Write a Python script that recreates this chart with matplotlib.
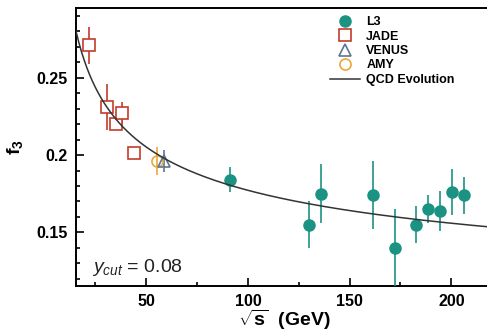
import numpy as np
import matplotlib
matplotlib.use("Agg")
import matplotlib.pyplot as plt
from matplotlib.lines import Line2D

plt.rcParams["font.family"] = ["Liberation Sans", "DejaVu Sans"]
plt.rcParams["mathtext.fontset"] = "custom"
plt.rcParams["mathtext.rm"] = "Liberation Sans"
plt.rcParams["mathtext.it"] = "Liberation Sans:italic"
plt.rcParams["mathtext.bf"] = "Liberation Sans:bold"

TEAL   = "#1b9282"
RED    = "#c43c2c"
SLATE  = "#5b7595"
ORANGE = "#eaa83c"
CURVE  = "#333333"

# ---- data ----
l3_e   = [91.2, 130.1, 136.1, 161.3, 172.3, 182.8, 188.6, 194.4, 200.2, 206.2]
l3_f3  = [0.184, 0.155, 0.175, 0.174, 0.140, 0.155, 0.165, 0.164, 0.176, 0.174]
l3_err = [0.008, 0.015, 0.019, 0.022, 0.025, 0.012, 0.009, 0.013, 0.015, 0.012]

jade_e   = [22.0, 30.5, 35.0, 38.3, 43.8]
jade_f3  = [0.271, 0.231, 0.220, 0.227, 0.201]
jade_err = [0.012, 0.015, 0.003, 0.007, 0.003]

venus_e, venus_f3, venus_err = [58.8], [0.196], [0.007]
amy_e, amy_f3, amy_err = [55.3], [0.196], [0.009]

# QCD evolution: f3 = A / ln(Q / Lambda)
QCD_A = 0.899
QCD_LAMBDA = 0.626

fig = plt.figure(figsize=(4.87, 3.32), dpi=100)
ax = fig.add_axes([76 / 487, 46 / 332, 416 / 487, 278 / 332])

q = np.linspace(15.5, 220, 300)
ax.plot(q, QCD_A / np.log(q / QCD_LAMBDA), color=CURVE, lw=1.1, zorder=5)

ekw = dict(ls="none", elinewidth=1.2, capsize=0, zorder=3)
ax.errorbar(l3_e, l3_f3, yerr=l3_err, marker="o", ms=8, mfc=TEAL, mec=TEAL,
            ecolor=TEAL, **ekw)
ax.errorbar(jade_e, jade_f3, yerr=jade_err, marker="s", ms=8.5, mfc="white",
            mec=RED, mew=1.2, ecolor=RED, **ekw)
ax.errorbar(amy_e, amy_f3, yerr=amy_err, marker="o", ms=8, mfc="none",
            mec=ORANGE, mew=1.2, ecolor=ORANGE, **ekw)
ax.errorbar(venus_e, venus_f3, yerr=venus_err, marker="^", ms=8, mfc="none",
            mec=SLATE, mew=1.2, ecolor=SLATE, **ekw)

ax.set_xlim(15.5, 220)
ax.set_ylim(0.1153, 0.2951)
ax.set_xticks([50, 100, 150, 200])
ax.set_xticks([25, 75, 125, 175], minor=True)
ax.set_yticks([0.15, 0.2, 0.25])
ax.set_yticklabels(["0.15", "0.2", "0.25"])
ax.set_yticks(np.arange(0.12, 0.30, 0.01), minor=True)
ax.tick_params(which="both", direction="in", top=False, right=False,
               labelsize=11.5, width=1.2, pad=6)
ax.tick_params(which="major", length=6)
ax.tick_params(which="minor", length=3)
for lab in ax.get_xticklabels() + ax.get_yticklabels():
    lab.set_fontweight("bold")
for sp in ax.spines.values():
    sp.set_linewidth(1.4)

ax.set_xlabel(r"$\mathbf{\sqrt{s}}$  (GeV)", fontsize=14, fontweight="bold",
              labelpad=-1)
ax.set_ylabel(r"$\mathbf{f_3}$", fontsize=14, fontweight="bold", labelpad=8)

ax.text(23.5, 0.1243, r"$y_{cut}$ = 0.08", fontsize=14, color="#222222")

handles = [
    Line2D([], [], ls="none", marker="o", ms=8, mfc=TEAL, mec=TEAL),
    Line2D([], [], ls="none", marker="s", ms=8.5, mfc="none", mec=RED, mew=1.2),
    Line2D([], [], ls="none", marker="^", ms=8, mfc="none", mec=SLATE, mew=1.2),
    Line2D([], [], ls="none", marker="o", ms=8, mfc="none", mec=ORANGE, mew=1.2),
    Line2D([], [], color=CURVE, lw=1.1),
]
labels = ["L3", "JADE", "VENUS", "AMY", "QCD Evolution"]
leg = fig.legend(handles, labels, loc="upper left",
                 bbox_to_anchor=(330 / 487, 1 - 16 / 332),
                 frameon=False, fontsize=9, handlelength=2.4,
                 handletextpad=0.5, labelspacing=0.2, borderpad=0,
                 borderaxespad=0)
for t in leg.get_texts():
    t.set_fontweight("bold")

fig.savefig("out.png", dpi=100)
